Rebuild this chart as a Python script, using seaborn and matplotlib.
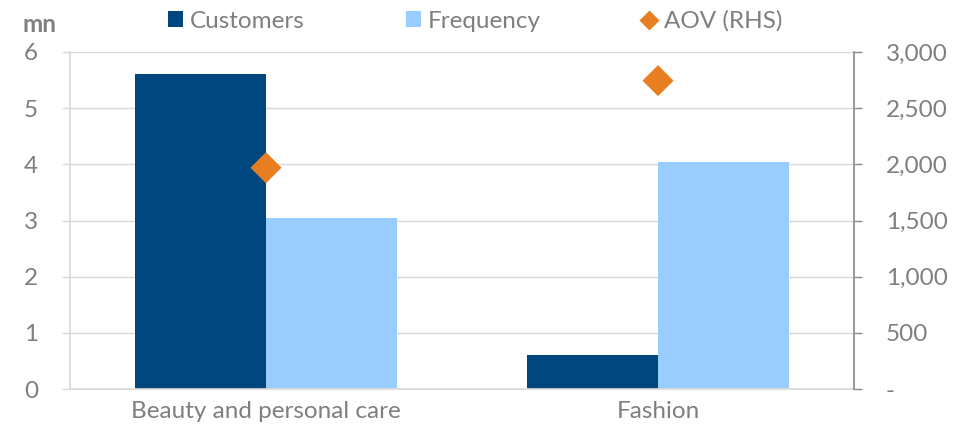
import matplotlib
matplotlib.use("Agg")
import matplotlib.pyplot as plt
from matplotlib.lines import Line2D
from matplotlib.patches import Patch
from matplotlib.ticker import FuncFormatter, FixedLocator
import seaborn as sns
import pandas as pd

categories = ["Beauty and personal care", "Fashion"]
customers = [5.6, 0.6]
frequency = [3.05, 4.04]
aov = [1970, 2745]

NAVY = "#00467F"
LIGHT = "#99CCFF"
ORANGE = "#E87E22"
TEXT = "#7F7F7F"
GRID = "#D9D9D9"
AXIS = "#8C8C8C"
FS = 17.5

sns.set_theme(style="white")
plt.rcParams["font.family"] = ["Lato", "DejaVu Sans"]

bars = pd.DataFrame({
    "category": categories * 2,
    "series": ["Customers"] * 2 + ["Frequency"] * 2,
    "value": customers + frequency,
})
points = pd.DataFrame({"category": categories, "aov": aov})

fig = plt.figure(figsize=(9.68, 4.30), dpi=100)
ax = fig.add_axes([70 / 968, 41 / 430, 784 / 968, 337 / 430])

sns.barplot(data=bars, x="category", y="value", hue="series",
            palette=[NAVY, LIGHT], width=2 / 3, gap=0, saturation=1,
            linewidth=0, legend=False, ax=ax)

ax.set_xlim(-0.5, 1.5)
ax.set_ylim(0, 6)
ax.set_yticks(range(0, 7))
ax.yaxis.grid(True, color=GRID, linewidth=1)
ax.set_axisbelow(True)
ax.set_xlabel("")
ax.set_ylabel("")
for side in ["top", "right"]:
    ax.spines[side].set_visible(False)
ax.spines["left"].set_color(GRID)
ax.spines["bottom"].set_color(GRID)
ax.tick_params(axis="y", colors=TEXT, labelsize=FS, length=6, width=1,
               color=GRID, direction="out", pad=17)
ax.tick_params(axis="x", which="major", colors=TEXT, labelsize=FS, length=0, pad=9)
ax.xaxis.set_minor_locator(FixedLocator([-0.5, 0.5, 1.5]))
ax.tick_params(axis="x", which="minor", length=6, color=GRID, width=1)

ax2 = ax.twinx()
sns.scatterplot(data=points, x="category", y="aov", marker="D", s=250,
                color=ORANGE, edgecolor="none", legend=False, ax=ax2, zorder=5)
ax2.set_xlim(-0.5, 1.5)
ax2.set_ylim(0, 3000)
ax2.set_yticks(range(0, 3001, 500))
ax2.yaxis.set_major_formatter(FuncFormatter(lambda v, p: "-" if v == 0 else f"{int(v):,}"))
ax2.set_ylabel("")
ax2.set_xlabel("")
for side in ["top", "left", "bottom"]:
    ax2.spines[side].set_visible(False)
ax2.spines["right"].set_color(AXIS)
ax2.tick_params(axis="y", colors=TEXT, labelsize=FS, length=6, width=1,
                color=AXIS, direction="out", pad=17)

fig.text(22 / 968, 1 - 24 / 430, "mn", color=TEXT, fontsize=FS,
         fontweight="bold", va="center", ha="left")

# one legend entry per series, each anchored at its own position
entries = [
    (Patch(facecolor=NAVY, edgecolor="none", label="Customers"), 168),
    (Patch(facecolor=LIGHT, edgecolor="none", label="Frequency"), 406),
    (Line2D([], [], marker="D", linestyle="none", markersize=10.5,
            markerfacecolor=ORANGE, markeredgecolor="none", label="AOV (RHS)"), 642),
]
for handle, xpix in entries:
    leg = fig.legend(handles=[handle], loc="center left",
                     bbox_to_anchor=(xpix / 968, 1 - 21 / 430), frameon=False,
                     fontsize=FS, handlelength=0.6, handleheight=0.6,
                     handletextpad=0.3, borderaxespad=0, borderpad=0)
    for t in leg.get_texts():
        t.set_color(TEXT)

fig.savefig("out.png", dpi=100)
